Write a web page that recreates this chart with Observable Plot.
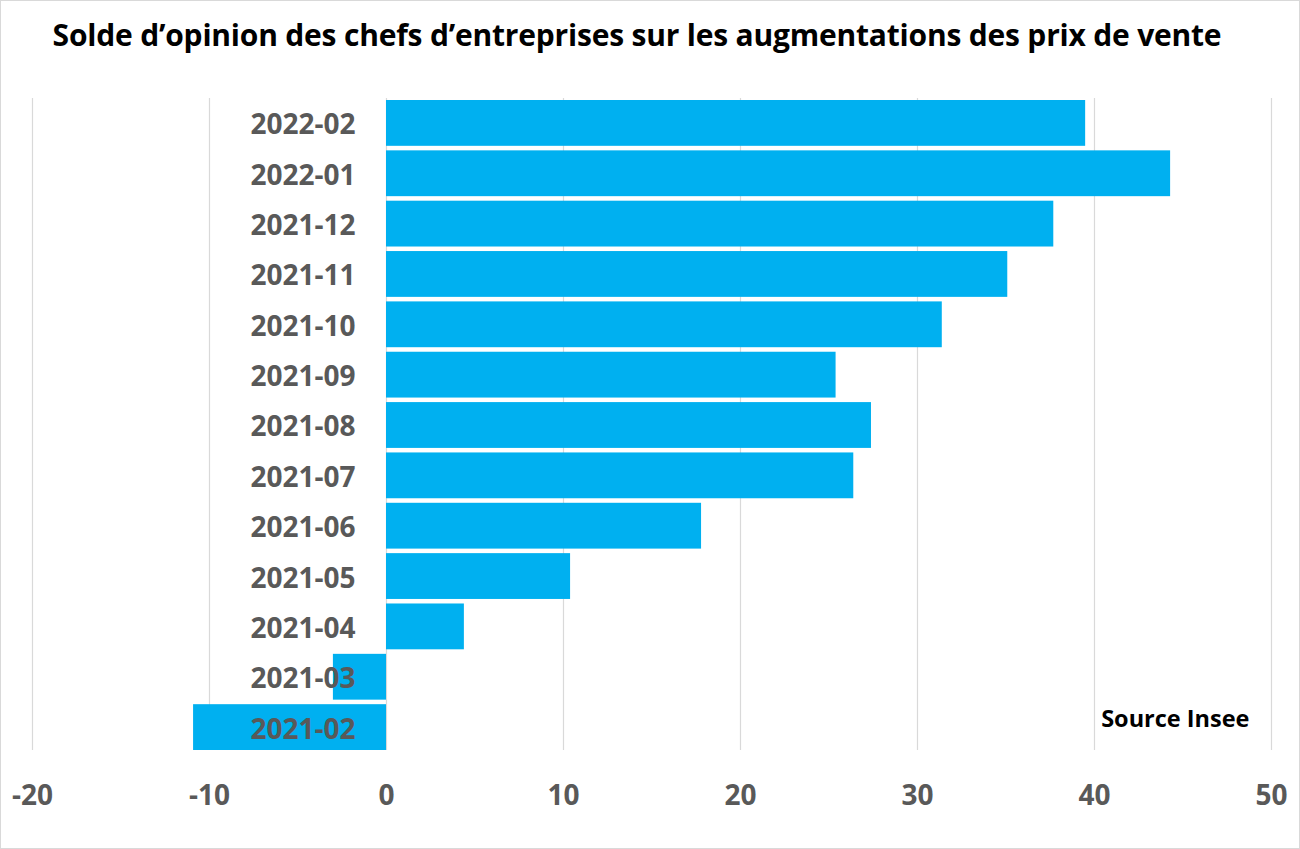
<!DOCTYPE html>
<html>
<head>
<meta charset="utf-8">
<script src="https://cdn.jsdelivr.net/npm/d3@7"></script>
<script src="https://cdn.jsdelivr.net/npm/@observablehq/plot@0.6"></script>
<style>
  html, body { margin: 0; padding: 0; background: #fff; }
  #wrap { position: relative; width: 1300px; height: 849px; overflow: hidden; background: #fff; }
  #frame { position: absolute; left: 0; top: 0; width: 1300px; height: 849px; box-sizing: border-box; border: 1.5px solid #d9d9d9; pointer-events: none; }
  #title { height: 70px; line-height: 70px; text-align: center; font-family: "Open Sans", sans-serif; font-weight: 700; font-size: 30px; color: #000; padding-right: 26px; letter-spacing: -0.2px; white-space: nowrap; }
  #chart svg { display: block; }
</style>
</head>
<body>
<div id="wrap">
  <div id="title">Solde d’opinion des chefs d’entreprises sur les augmentations des prix de vente</div>
  <div id="chart"></div>
  <div id="frame"></div>
</div>
<script>
const months = ["2022-02","2022-01","2021-12","2021-11","2021-10","2021-09","2021-08","2021-07","2021-06","2021-05","2021-04","2021-03","2021-02"];
const values = [39.5, 44.3, 37.7, 35.1, 31.4, 25.4, 27.4, 26.4, 17.8, 10.4, 4.4, -3.0, -10.9];
const xTicks = [-20, -10, 0, 10, 20, 30, 40, 50];
const sourceText = ["Source Insee"];

const data = months.map((m, i) => ({month: m, value: values[i]}));

const chart = Plot.plot({
  width: 1300,
  height: 779,
  marginTop: 30,
  marginBottom: 99,
  marginLeft: 32,
  marginRight: 29,
  style: {fontFamily: "'Open Sans', sans-serif", background: "transparent"},
  x: {domain: [-20, 50], ticks: xTicks, label: null},
  y: {domain: months, paddingInner: 0.09, paddingOuter: 0, round: false, axis: null},
  marks: [
    Plot.ruleX(xTicks, {stroke: "#d9d9d9", strokeWidth: 1.2, insetTop: -2}),
    Plot.barX(data, {y: "month", x: "value", fill: "#00b0f0"}),
    Plot.text(data, {y: "month", x: () => 0, text: "month", textAnchor: "end", dx: -31, dy: 2, fill: "#595959", fontWeight: 700, fontSize: 28}),
    Plot.text(sourceText, {frameAnchor: "bottom-right", text: d => d, dx: -22, dy: -31, textAnchor: "end", lineAnchor: "middle", fill: "#000", fontWeight: 700, fontSize: 23.5}),
    Plot.axisX(xTicks, {tickSize: 0, tickPadding: 35, fill: "#595959", fontWeight: 700, fontSize: 28, tickFormat: d => String(d).replace("−", "-"), label: null})
  ]
});
document.getElementById("chart").appendChild(chart);
</script>
</body>
</html>
